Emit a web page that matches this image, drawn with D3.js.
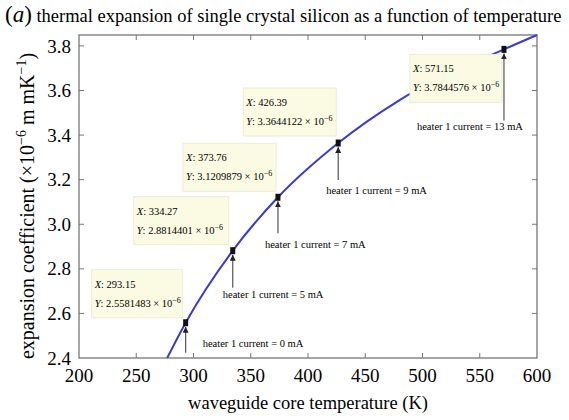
<!DOCTYPE html>
<html>
<head>
<meta charset="utf-8">
<script src="https://cdn.jsdelivr.net/npm/d3@7"></script>
<style>
  body { margin: 0; background: #fff; }
  svg { font-family: "Liberation Serif", "Times New Roman", serif; }
</style>
</head>
<body>
<svg id="chart" width="569" height="420"></svg>
<script>
// curve (K, 1e-6 per K)
const curveTemp = [277, 293.15, 334.27, 373.76, 426.39, 480, 571.15, 600];
const curveAlpha = [2.40, 2.5581483, 2.8814401, 3.1209879, 3.3644122, 3.557, 3.7844576, 3.849];

// data tips
const tipTemp = [293.15, 334.27, 373.76, 426.39, 571.15];
const tipAlpha = [2.5581483, 2.8814401, 3.1209879, 3.3644122, 3.7844576];
const heaterCurrent = [0, 5, 7, 9, 13];

const xTicks = [200, 250, 300, 350, 400, 450, 500, 550, 600];
const yTicks = [2.4, 2.6, 2.8, 3.0, 3.2, 3.4, 3.6, 3.8];

// where each tip box / arrow label sits relative to its point (px)
const tipLayout = [
  {bx: -94, by: -53, w: 91, arrow: 30, lx: 17, ly: 24},
  {bx: -99, by: -54, w: 95, arrow: 37, lx: -10, ly: 47},
  {bx: -95, by: -54, w: 93, arrow: 36, lx: -13, ly: 51},
  {bx: -95, by: -55, w: 93, arrow: 37, lx: -12, ly: 51},
  {bx: -94, by: 5, w: 92, arrow: 71, lx: -87, ly: 81}
];

const svg = d3.select("#chart");
const mLeft = 79, mRight = 537, mTop = 35, mBottom = 358;

const x = d3.scaleLinear().domain([200, 600]).range([mLeft, mRight]);
const y = d3.scaleLinear().domain([2.4, 3.849]).range([mBottom, mTop]);

// title
const title = svg.append("text").attr("x", 5).attr("y", 22).attr("font-size", 18.5);
title.append("tspan").attr("font-size", 23).text("(");
title.append("tspan").attr("font-size", 23).attr("font-style", "italic").text("a");
title.append("tspan").attr("font-size", 23).text(")");
title.append("tspan").text(" thermal expansion of single crystal silicon as a function of temperature");

// frame + inward ticks
svg.append("rect")
  .attr("x", mLeft).attr("y", mTop)
  .attr("width", mRight - mLeft).attr("height", mBottom - mTop)
  .attr("fill", "none").attr("stroke", "#777").attr("stroke-width", 1.3);

const tickLen = 5;
const g = svg.append("g").attr("stroke", "#777").attr("stroke-width", 1);
xTicks.slice(1, -1).forEach(t => {
  g.append("line").attr("x1", x(t)).attr("x2", x(t)).attr("y1", mBottom).attr("y2", mBottom - tickLen);
  g.append("line").attr("x1", x(t)).attr("x2", x(t)).attr("y1", mTop).attr("y2", mTop + tickLen);
});
yTicks.slice(1).forEach(t => {
  g.append("line").attr("y1", y(t)).attr("y2", y(t)).attr("x1", mLeft).attr("x2", mLeft + tickLen);
  g.append("line").attr("y1", y(t)).attr("y2", y(t)).attr("x1", mRight).attr("x2", mRight - tickLen);
});

// tick labels
svg.append("g").selectAll("text").data(xTicks).join("text")
  .attr("x", d => x(d)).attr("y", mBottom + 24)
  .attr("text-anchor", "middle").attr("font-size", 19)
  .text(d => d);
svg.append("g").selectAll("text").data(yTicks).join("text")
  .attr("x", mLeft - 8).attr("y", d => y(d)).attr("dy", "0.35em")
  .attr("text-anchor", "end").attr("font-size", 19)
  .text(d => d.toFixed(1));

// axis titles
svg.append("text")
  .attr("x", (mLeft + mRight) / 2).attr("y", 409)
  .attr("text-anchor", "middle").attr("font-size", 18.5)
  .text("waveguide core temperature (K)");

const yt = svg.append("text")
  .attr("transform", "translate(34," + 206 + ") rotate(-90)")
  .attr("text-anchor", "middle").attr("font-size", 20);
yt.append("tspan").text("expansion coefficient (×10");
yt.append("tspan").attr("dy", -8).attr("font-size", 14).text("−6");
yt.append("tspan").attr("dy", 8).text(" m mK");
yt.append("tspan").attr("dy", -8).attr("font-size", 14).text("−1");
yt.append("tspan").attr("dy", 8).text(")");

// curve
const line = d3.line()
  .x(i => x(curveTemp[i])).y(i => y(curveAlpha[i]))
  .curve(d3.curveMonotoneX);
svg.append("path")
  .attr("d", line(d3.range(curveTemp.length)))
  .attr("fill", "none").attr("stroke", "#3a3ad0").attr("stroke-width", 2);

// arrow marker
svg.append("defs").append("marker")
  .attr("id", "head").attr("viewBox", "0 0 10 10")
  .attr("refX", 10).attr("refY", 5)
  .attr("markerWidth", 5).attr("markerHeight", 5)
  .attr("orient", "auto")
  .append("path").attr("d", "M0,0 L10,5 L0,10 z").attr("fill", "#222");

// tips
tipTemp.forEach((t, i) => {
  const px = x(t), py = y(tipAlpha[i]);
  const L = tipLayout[i];

  const box = svg.append("g").attr("transform", `translate(${px + L.bx},${py + L.by})`);
  box.append("rect")
    .attr("width", L.w).attr("height", 48)
    .attr("fill", "#fbfbe4").attr("stroke", "#ecebd8").attr("stroke-width", 1);
  const tx = box.append("text").attr("x", 3).attr("y", 18).attr("font-size", 10.5);
  tx.append("tspan").attr("font-style", "italic").text("X");
  tx.append("tspan").text(": " + t.toFixed(2));
  const ty = box.append("text").attr("x", 3).attr("y", 37).attr("font-size", 10.5);
  ty.append("tspan").attr("font-style", "italic").text("Y");
  ty.append("tspan").text(": " + tipAlpha[i].toFixed(7) + " × 10");
  ty.append("tspan").attr("dy", -4).attr("font-size", 8).text("−6");

  svg.append("line")
    .attr("x1", px).attr("x2", px)
    .attr("y1", py + L.arrow).attr("y2", py + 4)
    .attr("stroke", "#555").attr("stroke-width", 1.2)
    .attr("marker-end", "url(#head)");

  svg.append("rect")
    .attr("x", px - 2.5).attr("y", py - 3.5)
    .attr("width", 5).attr("height", 7).attr("fill", "#111");

  svg.append("text")
    .attr("x", px + L.lx).attr("y", py + L.ly)
    .attr("font-size", 10.5)
    .text("heater 1 current = " + heaterCurrent[i] + " mA");
});
</script>
</body>
</html>
